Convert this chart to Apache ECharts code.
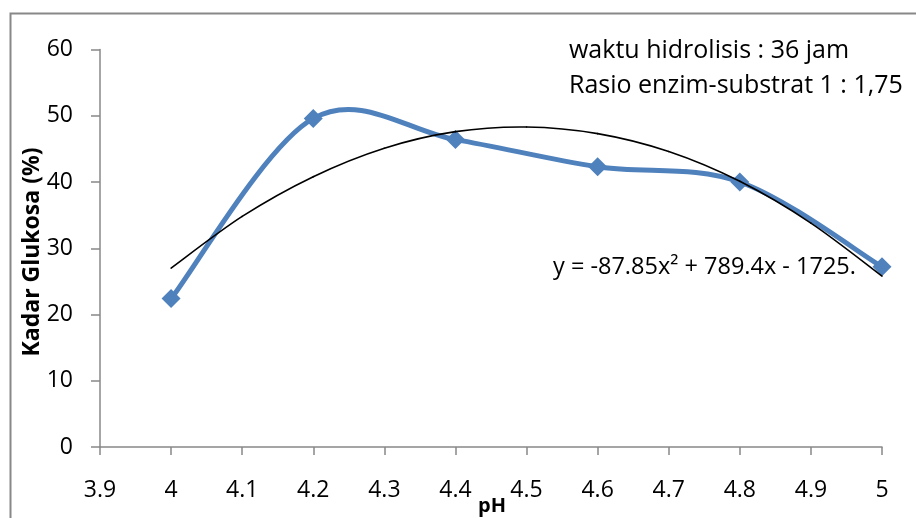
<!DOCTYPE html>
<html>
<head>
<meta charset="utf-8">
<script src="https://cdn.jsdelivr.net/npm/echarts@6/dist/echarts.min.js"></script>
<style>html,body{margin:0;padding:0;background:#fff;}#c{width:916px;height:518px;}</style>
</head>
<body>
<div id="c"></div>
<script>
const phValues = [4.0, 4.2, 4.4, 4.6, 4.8, 5.0];
const glucose = [22.4, 49.6, 46.4, 42.3, 40.0, 27.2];
const trendX = [4.0, 4.1, 4.2, 4.3, 4.4, 4.5, 4.6, 4.7, 4.8, 4.9, 5.0];
const trendY = [27.0, 34.8, 40.8, 45.1, 47.6, 48.3, 47.3, 44.6, 40.1, 33.8, 25.8];
const annotationLines = ['waktu hidrolisis : 36 jam', 'Rasio enzim-substrat 1 : 1,75'];
const equationText = 'y = -87.85x\u00B2 + 789.4x - 1725.';

const font = '"Open Sans", "Noto Sans", sans-serif';

// Excel-like smoothed segments (Catmull-Rom) drawn through the chart's own coordinate system
function smoothSegment(xs, ys, color, width) {
  return function (params, api) {
    const i = params.dataIndex;
    const n = xs.length;
    if (i >= n - 1) return null;
    const p = k => api.coord([xs[Math.max(0, Math.min(n - 1, k))], ys[Math.max(0, Math.min(n - 1, k))]]);
    const p0 = p(i - 1), p1 = p(i), p2 = p(i + 1), p3 = p(i + 2);
    const cp1 = [p1[0] + (p2[0] - p0[0]) / 6, p1[1] + (p2[1] - p0[1]) / 6];
    const cp2 = [p2[0] - (p3[0] - p1[0]) / 6, p2[1] - (p3[1] - p1[1]) / 6];
    return {
      type: 'bezierCurve',
      shape: {x1: p1[0], y1: p1[1], x2: p2[0], y2: p2[1], cpx1: cp1[0], cpy1: cp1[1], cpx2: cp2[0], cpy2: cp2[1]},
      style: {stroke: color, lineWidth: width, fill: null, lineCap: 'round'}
    };
  };
}

const chart = echarts.init(document.getElementById('c'), null, {renderer: 'canvas'});
chart.setOption({
  animation: false,
  backgroundColor: '#fff',
  grid: {left: 100, right: 34, top: 49.5, bottom: 71, containLabel: false},
  xAxis: {
    type: 'value', min: 3.9, max: 5, interval: 0.1,
    axisLine: {show: true, onZero: false, lineStyle: {color: '#888', width: 1.5}},
    axisTick: {show: true, length: 8, lineStyle: {color: '#888', width: 1.5}},
    splitLine: {show: false},
    axisLabel: {color: '#000', fontFamily: font, fontSize: 23, margin: 32,
      formatter: v => String(Math.round(v * 10) / 10)}
  },
  yAxis: {
    type: 'value', min: 0, max: 60, interval: 10,
    axisLine: {show: true, lineStyle: {color: '#888', width: 1.5}},
    axisTick: {show: true, length: 9, lineStyle: {color: '#888', width: 1.5}},
    splitLine: {show: false},
    axisLabel: {color: '#000', fontFamily: font, fontSize: 23, margin: 27}
  },
  series: [
    {
      type: 'custom', name: 'Kadar Glukosa line', data: phValues.map((x, i) => [x, glucose[i]]),
      renderItem: smoothSegment(phValues, glucose, '#4F81BD', 5), z: 2, clip: false
    },
    {
      type: 'scatter', name: 'Kadar Glukosa', data: phValues.map((x, i) => [x, glucose[i]]),
      symbol: 'diamond', symbolSize: 19, itemStyle: {color: '#4F81BD', opacity: 1}, z: 3
    },
    {
      type: 'custom', name: 'trend', data: trendX.map((x, i) => [x, trendY[i]]),
      renderItem: smoothSegment(trendX, trendY, '#000', 1.6), z: 4, clip: false
    }
  ],
  graphic: [
    {type: 'rect', shape: {x: 10.5, y: 13.5, width: 1200, height: 1200},
     style: {fill: 'none', stroke: '#888', lineWidth: 2}, silent: true},
    {type: 'text', left: 569, top: 38,
     style: {text: annotationLines[0], fontFamily: font, fontSize: 25, fill: '#000'}},
    {type: 'text', left: 569, top: 73,
     style: {text: annotationLines[1], fontFamily: font, fontSize: 25, fill: '#000'}},
    {type: 'text', left: 553, top: 255,
     style: {text: equationText, fontFamily: font, fontSize: 23.5, fill: '#000'}},
    {type: 'text', x: 32, y: 252, rotation: Math.PI / 2,
     style: {text: 'Kadar Glukosa (%)', fontFamily: font, fontSize: 23, fontWeight: 'bold', fill: '#000',
       align: 'center', verticalAlign: 'middle'}},
    {type: 'text', x: 492, y: 506,
     style: {text: 'pH', fontFamily: font, fontSize: 20, fontWeight: 'bold', fill: '#000',
       align: 'center', verticalAlign: 'middle'}}
  ]
});
</script>
</body>
</html>
